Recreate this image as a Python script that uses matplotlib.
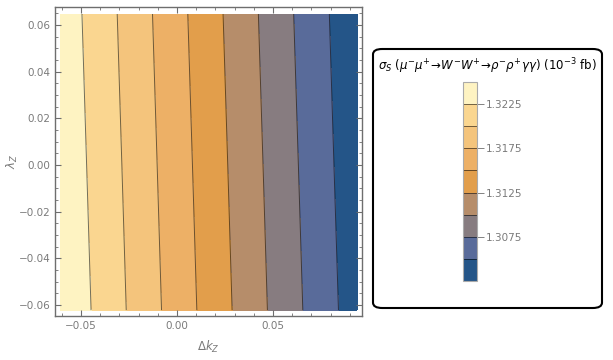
import numpy as np
import matplotlib
matplotlib.use('Agg')
import matplotlib.pyplot as plt
from matplotlib.patches import FancyBboxPatch
from matplotlib.colors import ListedColormap, BoundaryNorm

# Grid of cross section values (10^-3 fb)
dk_z = [-0.0604, -0.03, 0.0, 0.03, 0.06, 0.0938]
lam_z = [-0.0622, 0.0, 0.0647]
sigma = [
    [1.32464, 1.32049, 1.31641, 1.31233, 1.30825, 1.30370],
    [1.32432, 1.32018, 1.31610, 1.31202, 1.30794, 1.30338],
    [1.32399, 1.31985, 1.31577, 1.31169, 1.30761, 1.30306],
]

levels = [1.3025, 1.305, 1.3075, 1.31, 1.3125, 1.315, 1.3175, 1.32, 1.3225, 1.325]
band_colors = ['#245588', '#596B9A', '#877C80', '#B68D6A', '#E29E4B',
               '#EDB066', '#F4C47C', '#FAD690', '#FEF3C2']
cbar_ticks = [1.3075, 1.3125, 1.3175, 1.3225]

gray = '#6e6e6e'
label_gray = '#7a7a7a'

fig = plt.figure(figsize=(6.13, 3.6), dpi=100)
ax = fig.add_axes([55 / 613, 44 / 360, 307 / 613, 309 / 360])

cmap = ListedColormap(band_colors)
norm = BoundaryNorm(levels, cmap.N)
X, Y = np.meshgrid(dk_z, lam_z)
cf = ax.contourf(X, Y, sigma, levels=levels, cmap=cmap, norm=norm)
cs = ax.contour(X, Y, sigma, levels=levels[1:-1], colors='#000000', linewidths=0.7, alpha=0.55)

ax.set_xlim(-0.0635, 0.0964)
ax.set_ylim(-0.0647, 0.0677)
ax.set_xticks([-0.05, 0.0, 0.05])
ax.set_xticklabels(['\u22120.05', '0.00', '0.05'])
ax.set_yticks([-0.06, -0.04, -0.02, 0.0, 0.02, 0.04, 0.06])
ax.set_yticklabels(['\u22120.06', '\u22120.04', '\u22120.02', '0.00', '0.02', '0.04', '0.06'])
ax.set_xticks(np.arange(-0.06, 0.095, 0.01), minor=True)
ax.set_yticks(np.arange(-0.06, 0.0651, 0.005), minor=True)
ax.tick_params(which='both', direction='in', top=True, right=True, color=gray, labelcolor=label_gray, labelsize=7.5)
ax.tick_params(which='major', length=4, width=0.8)
ax.tick_params(which='minor', length=2, width=0.6)
for s in ax.spines.values():
    s.set_color(gray)
    s.set_linewidth(1.0)

ax.set_xlabel(r'$\Delta k_Z$', color=label_gray, fontsize=8.5, labelpad=6)
ax.set_ylabel(r'$\lambda_Z$', color=label_gray, fontsize=8.5)
ax.yaxis.set_label_coords(-0.115, 0.5)

# legend box
box = FancyBboxPatch((373 / 613, 52 / 360), 229 / 613, 259 / 360,
                     boxstyle='round,pad=0,rounding_size=0.015',
                     transform=fig.transFigure, facecolor='white',
                     edgecolor='black', linewidth=1.5, zorder=0)
fig.patches.append(box)
fig.text(487 / 613, 1 - 66 / 360,
         r'$\sigma_S\ (\mu^{-}\mu^{+}\!\rightarrow\! W^{-}W^{+}\!\rightarrow\!\rho^{-}\rho^{+}\gamma\gamma)\ (10^{-3}\ \mathrm{fb})$',
         ha='center', va='center', fontsize=8.5, color='black')

cax = fig.add_axes([463 / 613, 1 - 281 / 360, 14 / 613, 199 / 360], zorder=3)
cbar = fig.colorbar(cf, cax=cax, ticks=cbar_ticks, spacing='uniform')
cbar.ax.minorticks_off()
for lv in levels[1:-1]:
    cax.axhline(lv, color='#000000', linewidth=0.7, alpha=0.55)
cbar.outline.set_edgecolor('#aaaaaa')
cbar.outline.set_linewidth(0.8)
cbar.ax.tick_params(direction='out', length=5, width=0.6, color=gray, labelcolor=label_gray, labelsize=7.5, pad=1)
cbar.ax.set_yticklabels(['1.3075', '1.3125', '1.3175', '1.3225'])

fig.savefig('out.png', dpi=100)
